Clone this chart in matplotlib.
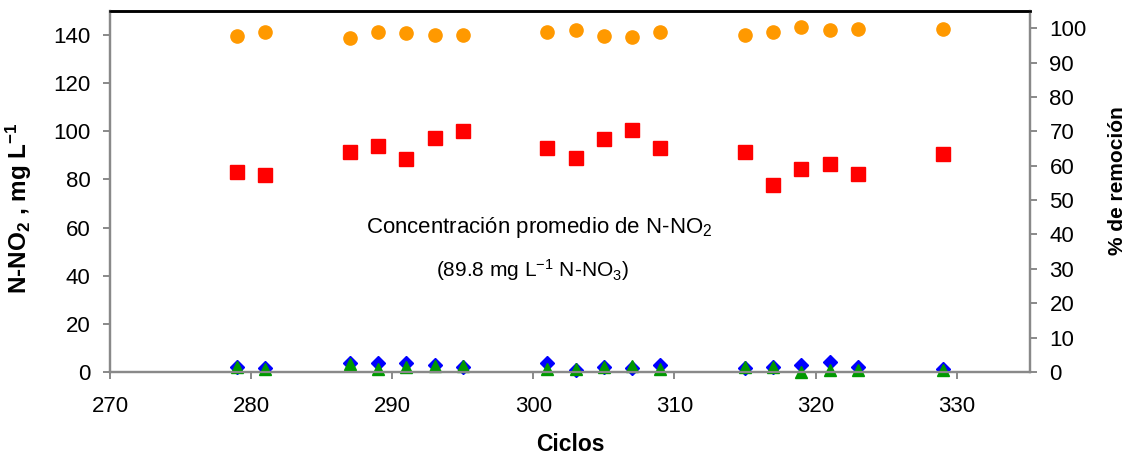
import numpy as np
import matplotlib
matplotlib.use("Agg")
import matplotlib.pyplot as plt

plt.rcParams['font.family'] = ['Liberation Sans', 'DejaVu Sans']
plt.rcParams['mathtext.fontset'] = 'custom'
plt.rcParams['mathtext.rm'] = 'Liberation Sans'
plt.rcParams['mathtext.it'] = 'Liberation Sans:italic'
plt.rcParams['mathtext.bf'] = 'Liberation Sans:bold'

# ciclos
ciclos = [279, 281, 287, 289, 291, 293, 295, 301, 303, 305, 307, 309,
          315, 317, 319, 321, 323, 329]
# concentracion (eje izquierdo, mg/L)
rojo = [83.1, 81.9, 91.3, 93.9, 88.5, 97.1, 100.0, 93.2, 88.8, 96.9, 100.7,
        93.2, 91.3, 77.5, 84.5, 86.5, 82.4, 90.6]
azul = [2.2, 1.8, 3.6, 3.6, 3.6, 2.8, 2.0, 3.6, 1.0, 2.2, 1.8, 2.8,
        1.8, 2.2, 2.8, 4.1, 2.2, 1.1]
verde = [1.9, 1.3, 3.4, 1.3, 2.1, 2.7, 2.7, 1.4, 1.3, 1.9, 2.6, 1.3,
         1.9, 1.9, 0.0, 0.8, 0.7, 0.9]
# % de remocion (eje derecho)
remocion = [97.8, 98.8, 97.1, 98.9, 98.5, 98.0, 98.0, 98.9, 99.4, 97.8, 97.5,
            98.8, 98.1, 98.9, 100.4, 99.4, 99.9, 99.9]

gris = '#898989'

fig = plt.figure(figsize=(11.25, 4.62), dpi=100)
ax = fig.add_axes([110/1125, 1 - 372/462, 920/1125, 361/462])
ax2 = ax.twinx()

ax.plot(ciclos, rojo, 's', color='#FF0000', ms=9.5, clip_on=False, zorder=3)
ax.plot(ciclos, azul, 'D', color='#0000FF', ms=7, clip_on=False, zorder=3)
ax.plot(ciclos, verde, '^', color='#009900', ms=9, clip_on=False, zorder=4)
ax2.plot(ciclos, remocion, 'o', color='#FF9900', ms=9.5, clip_on=False)

ax.set_xlim(270, 335.2)
ax.set_xticks(np.arange(270, 331, 10))
ax.set_ylim(0, 150)
ax.set_yticks(np.arange(0, 141, 20))
ax2.set_ylim(0, 105)
ax2.set_yticks(np.arange(0, 101, 10))

for a in (ax, ax2):
    for s in ('left', 'right', 'bottom'):
        a.spines[s].set_color(gris)
        a.spines[s].set_linewidth(1.6)
    a.spines['top'].set_color('black')
    a.spines['top'].set_linewidth(1.8)

ax.tick_params(axis='x', direction='out', length=5, width=1.4, color=gris,
               labelsize=16, pad=12)
ax.tick_params(axis='y', direction='out', length=5, width=1.4, color=gris,
               labelsize=16, pad=9)
ax2.tick_params(axis='y', direction='out', length=5, width=1.4, color=gris,
                labelsize=16, pad=9)

ax.set_xlabel('Ciclos', fontsize=16.5, fontweight='bold', labelpad=12)
ax.set_ylabel(r'N-NO$_{\mathbf{2}}$ , mg L$^{\mathbf{-1}}$', fontsize=17.5,
              fontweight='bold')
ax.yaxis.set_label_coords(-0.083, 0.455)
ax2.set_ylabel('% de remoción', fontsize=15, fontweight='bold', labelpad=10)
ax2.yaxis.set_label_coords(1.085, 0.53)

ax.text(0.467, 0.40, r'Concentración promedio de N-NO$_2$', transform=ax.transAxes,
        ha='center', va='center', fontsize=16)
ax.text(0.459, 0.283, r'(89.8 mg L$^{-1}$ N-NO$_3$)', transform=ax.transAxes,
        ha='center', va='center', fontsize=15)

fig.savefig('out.png', dpi=100)
